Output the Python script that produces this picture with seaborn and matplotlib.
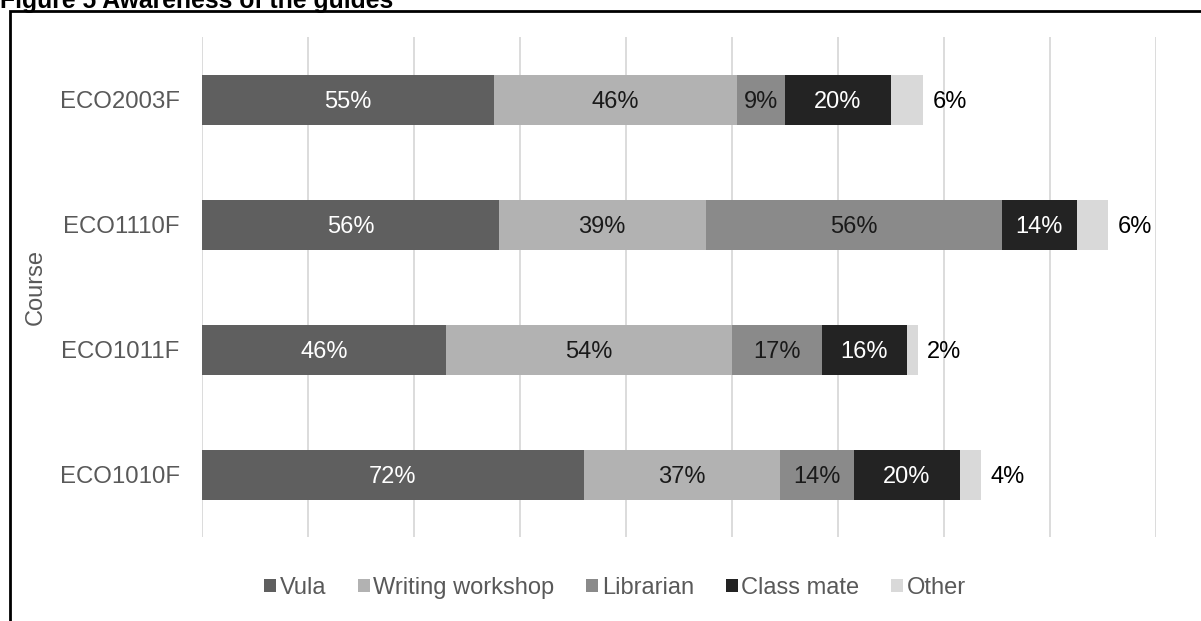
import matplotlib
matplotlib.use("Agg")
import matplotlib.pyplot as plt
from matplotlib.patches import Rectangle, Patch
import seaborn as sns
import pandas as pd
import numpy as np

# Survey shares (%) of where students heard about the guides
courses = ["ECO2003F", "ECO1110F", "ECO1011F", "ECO1010F"]
sources = ["Vula", "Writing workshop", "Librarian", "Class mate", "Other"]
vula = [55, 56, 46, 72]
writing_workshop = [46, 39, 54, 37]
librarian = [9, 56, 17, 14]
class_mate = [20, 14, 16, 20]
other = [6, 6, 2, 4]

colors = ["#5f5f5f", "#b2b2b2", "#8a8a8a", "#232323", "#d9d9d9"]
label_colors = ["white", "#1a1a1a", "#1a1a1a", "white", "black"]

sns.set_theme(style="white")
plt.rcParams["font.family"] = ["Liberation Sans", "DejaVu Sans"]

values = np.array([vula, writing_workshop, librarian, class_mate, other], dtype=float)
cum = values.cumsum(axis=0)

fig = plt.figure(figsize=(12.01, 6.21), dpi=100)
W, H = 1201, 621
ax = fig.add_axes([202 / W, (H - 537) / H, (1156 - 202) / W, (537 - 37) / H])

# Stacked bars: draw cumulative totals from the outermost segment inward
for i in range(len(sources) - 1, -1, -1):
    df = pd.DataFrame({"Course": courses, "value": cum[i]})
    sns.barplot(data=df, y="Course", x="value", order=courses, orient="h",
                color=colors[i], width=0.4, saturation=1, ax=ax,
                linewidth=0, edgecolor="none", zorder=3)

# Segment value labels
for i in range(len(sources)):
    for j in range(len(courses)):
        v = values[i, j]
        if i == len(sources) - 1:
            ax.text(cum[i, j] + 1.8, j, f"{v:.0f}%", ha="left", va="center_baseline",
                    color=label_colors[i], fontsize=17, zorder=5)
        else:
            ax.text(cum[i, j] - v / 2, j, f"{v:.0f}%", ha="center", va="center_baseline",
                    color=label_colors[i], fontsize=17, zorder=5)

ax.set_xlim(0, 180)
ax.set_ylim(3.5, -0.5)
ax.set_xticks(np.arange(0, 181, 20))
ax.set_xticklabels([])
ax.grid(axis="x", color="#d9d9d9", linewidth=1.3, zorder=0)
ax.grid(axis="y", visible=False)
for s in ax.spines.values():
    s.set_visible(False)
ax.tick_params(axis="both", length=0)
ax.tick_params(axis="y", pad=16, labelsize=17.3, labelcolor="#595959")
ax.set_xlabel("")
ax.set_ylabel("Course", fontsize=17, color="#595959")
ax.yaxis.set_label_coords((47 - 202) / (1156 - 202), 0.5)

# Legend
handles = [Patch(facecolor=c, edgecolor="none") for c in colors]
fig.legend(handles, sources, loc="center", bbox_to_anchor=(615 / W, (H - 588) / H),
           ncol=5, frameon=False, fontsize=17, labelcolor="#595959",
           handlelength=0.5, handleheight=0.5, handletextpad=0.15,
           columnspacing=1.35)

# Frame around the chart and the figure caption
fig.patches.append(Rectangle((10 / W, -0.1), 1.2, (H - 11) / H + 0.1,
                             transform=fig.transFigure, fill=False,
                             edgecolor="black", linewidth=2))
fig.text(0, 1 - 8 / H, "Figure 5 Awareness of the guides", ha="left",
         va="baseline", fontsize=17.8, fontweight="bold", color="black")

fig.savefig("out.png", dpi=100)
